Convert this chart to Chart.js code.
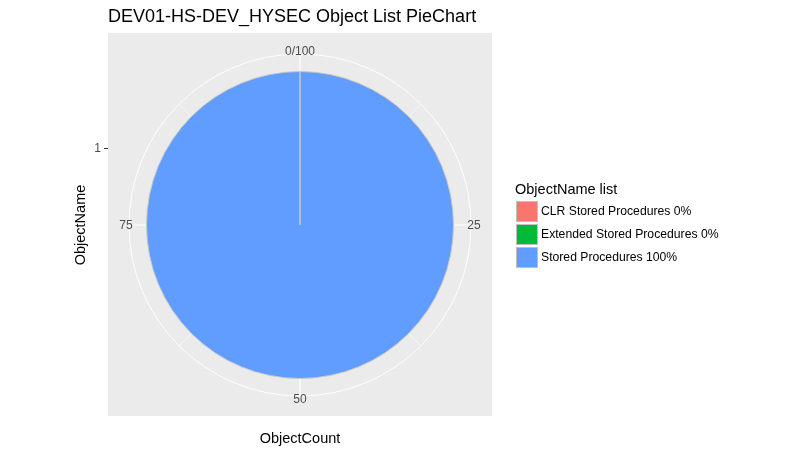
<!DOCTYPE html>
<html>
<head>
<meta charset="utf-8">
<script src="https://cdn.jsdelivr.net/npm/chart.js@4/dist/chart.umd.min.js"></script>
<style>
  html, body { margin: 0; padding: 0; background: #fff; }
  #wrap { width: 800px; height: 454px; }
</style>
</head>
<body>
<div id="wrap"><canvas id="chart-area"></canvas></div>
<script>
// data
var categories = ['CLR Stored Procedures', 'Extended Stored Procedures', 'Stored Procedures'];
var objectCounts = [0, 0, 100];
var percentLabels = ['0%', '0%', '100%'];
var sliceColors = ['#F8766D', '#00BA38', '#619CFF'];
var thetaTickValues = [0, 25, 50, 75];
var thetaTickLabels = ['0/100', '25', '50', '75'];
var rTickLabels = ['1'];

var FONT = '"Liberation Sans", Arial, sans-serif';
var CX = 300, CY = 225, OUTER = 171, TOTAL = 100;

var ggBackground = {
  id: 'ggBackground',
  beforeDatasetsDraw: function(chart) {
    var ctx = chart.ctx;
    ctx.save();
    ctx.fillStyle = '#fff';
    ctx.fillRect(0, 0, chart.width, chart.height);
    // panel
    ctx.fillStyle = '#EBEBEB';
    ctx.fillRect(108, 33, 384, 383);
    // outer circle
    ctx.strokeStyle = '#fff';
    ctx.lineWidth = 1;
    ctx.beginPath();
    ctx.arc(CX, CY, OUTER, 0, Math.PI * 2);
    ctx.stroke();
    // spokes (major and minor theta breaks)
    for (var v = 0; v < TOTAL; v += 12.5) {
      var a = v / TOTAL * Math.PI * 2 - Math.PI / 2;
      ctx.lineWidth = (v % 25 === 0) ? 1.1 : 0.6;
      ctx.beginPath();
      ctx.moveTo(CX, CY);
      ctx.lineTo(CX + OUTER * Math.cos(a), CY + OUTER * Math.sin(a));
      ctx.stroke();
    }
    ctx.restore();
  },
  afterDraw: function(chart) {
    var ctx = chart.ctx;
    ctx.save();
    ctx.textAlign = 'center';
    ctx.textBaseline = 'middle';
    // theta tick labels
    ctx.fillStyle = '#4D4D4D';
    ctx.font = '12px ' + FONT;
    thetaTickValues.forEach(function(v, i) {
      var a = v / TOTAL * Math.PI * 2 - Math.PI / 2;
      ctx.fillText(thetaTickLabels[i], CX + 174 * Math.cos(a), CY + 174 * Math.sin(a) + 1);
    });
    // r axis tick
    ctx.strokeStyle = '#333';
    ctx.lineWidth = 1;
    ctx.beginPath();
    ctx.moveTo(104, 148.5);
    ctx.lineTo(108, 148.5);
    ctx.stroke();
    ctx.textAlign = 'right';
    ctx.fillText(rTickLabels[0], 101, 149);
    // axis titles
    ctx.fillStyle = '#000';
    ctx.font = '14.5px ' + FONT;
    ctx.textAlign = 'center';
    ctx.fillText('ObjectCount', 300, 439);
    ctx.save();
    ctx.translate(81, 225);
    ctx.rotate(-Math.PI / 2);
    ctx.fillText('ObjectName', 0, 0);
    ctx.restore();
    // plot title
    ctx.textAlign = 'left';
    ctx.font = '18px ' + FONT;
    ctx.fillText('DEV01-HS-DEV_HYSEC Object List PieChart', 108, 17);
    // legend
    ctx.font = '14.5px ' + FONT;
    ctx.fillText('ObjectName list', 515, 190);
    ctx.font = '12.2px ' + FONT;
    var ds = chart.data.datasets[0];
    chart.data.labels.forEach(function(lab, i) {
      var y = 201 + i * 23;
      ctx.fillStyle = '#C0C0C0';
      ctx.fillRect(516, y, 22, 21);
      ctx.fillStyle = ds.backgroundColor[i];
      ctx.fillRect(517, y + 1, 20, 19);
      ctx.fillStyle = '#000';
      ctx.fillText(lab, 541, y + 11);
    });
    ctx.restore();
  }
};

var config = {
  type: 'pie',
  data: {
    labels: categories.map(function(c, i) { return c + ' ' + percentLabels[i]; }),
    datasets: [{
      data: objectCounts,
      backgroundColor: sliceColors,
      borderColor: '#C8C8C8',
      borderWidth: 1
    }]
  },
  options: {
    responsive: false,
    animation: false,
    layout: { padding: { left: 146, right: 346, top: 71, bottom: 75 } },
    plugins: {
      legend: { display: false },
      title: { display: false },
      tooltip: { enabled: false }
    }
  },
  plugins: [ggBackground]
};

window.onload = function() {
  var canvas = document.getElementById('chart-area');
  canvas.width = 800;
  canvas.height = 454;
  var ctx = canvas.getContext('2d');
  window.myPie = new Chart(ctx, config);
};
</script>
</body>
</html>
